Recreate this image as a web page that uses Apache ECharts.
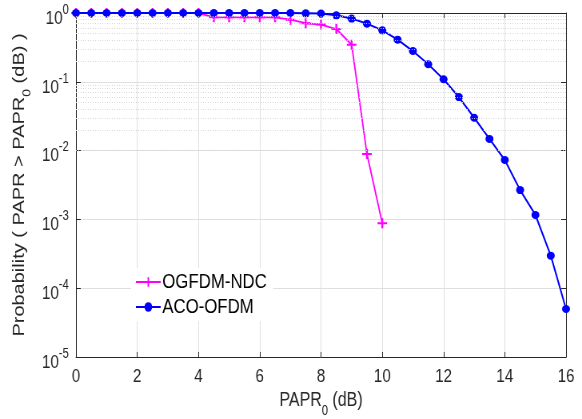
<!DOCTYPE html>
<html>
<head>
<meta charset="utf-8">
<script src="https://cdn.jsdelivr.net/npm/echarts@6/dist/echarts.min.js"></script>
<style>
html,body{margin:0;padding:0;background:#fff;overflow:hidden;width:582px;height:419px}
#c{width:728px;height:419px;transform:scaleX(0.7995);transform-origin:0 0}
</style>
</head>
<body>
<div id="c"></div>
<script>
var xAco = [0,0.5,1,1.5,2,2.5,3,3.5,4,4.5,5,5.5,6,6.5,7,7.5,8,8.5,9,9.5,10,10.5,11,11.5,12,12.5,13,13.5,14,14.5,15,15.5,16];
var acoOfdm = [1,1,1,1,1,1,1,1,1,1,1,1,1,1,1.0,0.99,0.98,0.925,0.83,0.70,0.56,0.41,0.28,0.18,0.109,0.060,0.030,0.0148,0.0073,0.00267,0.00116,0.000297,0.0000499];
var xOgfdm = [0,0.5,1,1.5,2,2.5,3,3.5,4,4.5,5,5.5,6,6.5,7,7.5,8,8.5,9,9.5,10];
var ogfdmNdc = [1,1,1,1,1,1,1,1,1,0.865,0.865,0.865,0.865,0.865,0.80,0.71,0.68,0.585,0.346,0.0089,0.00088];
var yDecades = [-5,-4,-3,-2,-1,0];
var minorMultipliers = [2,3,4,5,6,7,8,9];

var minorLines = [];
yDecades.slice(0, -1).forEach(function (d) {
  minorMultipliers.forEach(function (m) { minorLines.push({ yAxis: m * Math.pow(10, d) }); });
});

function pairs(xs, ys) { return xs.map(function (x, i) { return [x, ys[i]]; }); }

var font = 'Liberation Sans';
var axisCol = '#262626';
var nameRich = {
  a: { fontFamily: font, fontSize: 20, color: axisCol, lineHeight: 22, verticalAlign: 'top' },
  s: { fontFamily: font, fontSize: 14, color: axisCol, lineHeight: 27, verticalAlign: 'bottom' }
};
var chart = echarts.init(document.getElementById('c'), null, { renderer: 'canvas' });
chart.setOption({
  animation: false,
  backgroundColor: '#fff',
  grid: { left: 95, right: 20, top: 13, bottom: 62, containLabel: false, outerBoundsMode: 'none' },
  legend: {
    orient: 'vertical', left: 164, top: 268,
    backgroundColor: '#fff', padding: [3, 8, 3, 5],
    itemWidth: 31, itemHeight: 12, itemGap: 3,
    textStyle: { fontFamily: font, fontSize: 21, color: '#000', lineHeight: 22, padding: [0, 0, 0, -3] },
    data: ['OGFDM-NDC', 'ACO-OFDM']
  },
  xAxis: [{
    type: 'value', min: 0, max: 16, interval: 2,
    name: '{a|PAPR}{s|0}{a| (dB)}', nameLocation: 'middle', nameGap: 17,
    nameTextStyle: { fontFamily: font, color: axisCol, rich: nameRich },
    axisLine: { show: true, onZero: false, lineStyle: { color: axisCol, width: 1 } },
    axisTick: { show: true, inside: true, length: 5, lineStyle: { color: axisCol } },
    axisLabel: { fontFamily: font, fontSize: 19, color: axisCol, margin: 10 },
    splitLine: { show: true, lineStyle: { color: '#dfdfdf', width: 1 } }
  }, {
    type: 'value', min: 0, max: 16, interval: 2, position: 'top',
    axisLine: { show: true, onZero: false, lineStyle: { color: axisCol, width: 1 } },
    axisTick: { show: true, inside: true, length: 5, lineStyle: { color: axisCol } },
    axisLabel: { show: false }, splitLine: { show: false }
  }],
  yAxis: [{
    type: 'log', logBase: 10, min: 1e-5, max: 1, interval: 1,
    name: '{a|Probability ( PAPR > PAPR}{s|0}{a| (dB) )}', nameLocation: 'middle', nameGap: 49, nameRotate: 90,
    nameTextStyle: { fontFamily: font, color: axisCol, rich: nameRich },
    axisLine: { show: true, onZero: false, lineStyle: { color: axisCol, width: 1 } },
    axisTick: { show: true, inside: true, length: 6, lineStyle: { color: axisCol } },
    axisLabel: {
      fontFamily: font, color: axisCol, margin: 9,
      formatter: function (v) { return '{b|10}{p|' + Math.round(Math.log10(v)) + '}'; },
      rich: {
        b: { fontFamily: font, fontSize: 19, color: axisCol, lineHeight: 30, verticalAlign: 'bottom' },
        p: { fontFamily: font, fontSize: 14, color: axisCol, lineHeight: 16, verticalAlign: 'top', padding: [5, 0, 0, 0] }
      }
    },
    splitLine: { show: true, lineStyle: { color: '#dfdfdf', width: 1 } }
  }, {
    type: 'log', logBase: 10, min: 1e-5, max: 1, interval: 1, position: 'right',
    axisLine: { show: true, onZero: false, lineStyle: { color: axisCol, width: 1 } },
    axisTick: { show: true, inside: true, length: 6, lineStyle: { color: axisCol } },
    axisLabel: { show: false }, splitLine: { show: false }
  }],
  series: [{
    type: 'line', data: [], silent: true, z: 0,
    markLine: {
      silent: true, symbol: 'none', label: { show: false }, animation: false,
      lineStyle: { color: '#d4d4d4', type: [1, 2], width: 1 },
      data: minorLines
    }
  }, {
    name: 'OGFDM-NDC', type: 'line', data: pairs(xOgfdm, ogfdmNdc), z: 3,
    symbol: 'path://M4,0h2v4h4v2h-4v4h-2v-4h-4v-2h4z', symbolSize: [12, 10],
    lineStyle: { color: '#ff00ff', width: 1.8 }, itemStyle: { color: '#ff00ff' }
  }, {
    name: 'ACO-OFDM', type: 'line', data: pairs(xAco, acoOfdm), z: 4,
    symbol: 'circle', symbolSize: [10, 8],
    lineStyle: { color: '#0000ff', width: 2 }, itemStyle: { color: '#0000ff' }
  }]
});
</script>
</body>
</html>
